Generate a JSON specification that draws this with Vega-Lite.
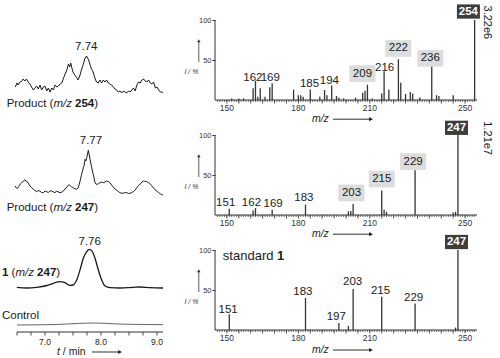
{
  "$schema": "https://vega.github.io/schema/vega-lite/v6.json",
  "padding": {"left": 2, "top": 4, "right": 0, "bottom": 0},
  "background": "white",
  "columns": 2,
  "spacing": {"row": 19, "column": 52},
  "bounds": "flush",
  "config": {"view": {"stroke": null}, "font": "Liberation Sans", "text": {"font": "Liberation Sans"}, "axis": {"labelFont": "Liberation Sans"}},
  "datasets": {
    "peaks": [
      {"panel": 1, "mz": 152, "rel": 2}, {"panel": 1, "mz": 155, "rel": 2}, {"panel": 1, "mz": 157, "rel": 2},
      {"panel": 1, "mz": 161, "rel": 14.6}, {"panel": 1, "mz": 162, "rel": 24}, {"panel": 1, "mz": 163, "rel": 4},
      {"panel": 1, "mz": 164, "rel": 14.6}, {"panel": 1, "mz": 166, "rel": 4}, {"panel": 1, "mz": 168, "rel": 16},
      {"panel": 1, "mz": 169, "rel": 21}, {"panel": 1, "mz": 178, "rel": 13}, {"panel": 1, "mz": 180, "rel": 6},
      {"panel": 1, "mz": 181, "rel": 6}, {"panel": 1, "mz": 182, "rel": 4}, {"panel": 1, "mz": 185, "rel": 13},
      {"panel": 1, "mz": 189, "rel": 4}, {"panel": 1, "mz": 191, "rel": 12.5}, {"panel": 1, "mz": 192, "rel": 6},
      {"panel": 1, "mz": 194, "rel": 18}, {"panel": 1, "mz": 196, "rel": 5}, {"panel": 1, "mz": 197, "rel": 3},
      {"panel": 1, "mz": 199, "rel": 2}, {"panel": 1, "mz": 204, "rel": 3}, {"panel": 1, "mz": 207, "rel": 9},
      {"panel": 1, "mz": 208, "rel": 11.6}, {"panel": 1, "mz": 209, "rel": 19}, {"panel": 1, "mz": 211, "rel": 2},
      {"panel": 1, "mz": 215, "rel": 8}, {"panel": 1, "mz": 216, "rel": 36}, {"panel": 1, "mz": 218, "rel": 13},
      {"panel": 1, "mz": 222, "rel": 51}, {"panel": 1, "mz": 223, "rel": 21.6}, {"panel": 1, "mz": 225, "rel": 7.5},
      {"panel": 1, "mz": 227, "rel": 10}, {"panel": 1, "mz": 228, "rel": 8}, {"panel": 1, "mz": 231, "rel": 3},
      {"panel": 1, "mz": 236, "rel": 43}, {"panel": 1, "mz": 238, "rel": 6}, {"panel": 1, "mz": 239, "rel": 5},
      {"panel": 1, "mz": 245, "rel": 6}, {"panel": 1, "mz": 254, "rel": 100},
      {"panel": 2, "mz": 151, "rel": 7.8}, {"panel": 2, "mz": 161, "rel": 5.7}, {"panel": 2, "mz": 162, "rel": 8.6},
      {"panel": 2, "mz": 169, "rel": 6.6}, {"panel": 2, "mz": 183, "rel": 13}, {"panel": 2, "mz": 201, "rel": 4.6},
      {"panel": 2, "mz": 202, "rel": 5}, {"panel": 2, "mz": 203, "rel": 13.7}, {"panel": 2, "mz": 215, "rel": 30.6},
      {"panel": 2, "mz": 216, "rel": 6.6}, {"panel": 2, "mz": 217, "rel": 4}, {"panel": 2, "mz": 229, "rel": 56},
      {"panel": 2, "mz": 245, "rel": 3}, {"panel": 2, "mz": 246, "rel": 4}, {"panel": 2, "mz": 247, "rel": 100},
      {"panel": 3, "mz": 151, "rel": 19.7}, {"panel": 3, "mz": 183, "rel": 40}, {"panel": 3, "mz": 197, "rel": 8.6},
      {"panel": 3, "mz": 201, "rel": 5}, {"panel": 3, "mz": 203, "rel": 51.4}, {"panel": 3, "mz": 215, "rel": 41.6},
      {"panel": 3, "mz": 229, "rel": 33}, {"panel": 3, "mz": 246, "rel": 3}, {"panel": 3, "mz": 247, "rel": 100}
    ],
    "labels": [
      {"panel": 1, "lx": 160.9, "ly": 28, "txt": "162", "kind": "plain"},
      {"panel": 1, "lx": 168.2, "ly": 27.5, "txt": "169", "kind": "plain"},
      {"panel": 1, "lx": 184.7, "ly": 20.4, "txt": "185", "kind": "plain"},
      {"panel": 1, "lx": 193, "ly": 23.7, "txt": "194", "kind": "plain"},
      {"panel": 1, "lx": 206.9, "ly": 33, "txt": "209", "kind": "frag"},
      {"panel": 1, "lx": 216.2, "ly": 40, "txt": "216", "kind": "plain"},
      {"panel": 1, "lx": 222, "ly": 64.4, "txt": "222", "kind": "frag"},
      {"panel": 1, "lx": 235.4, "ly": 52, "txt": "236", "kind": "frag"},
      {"panel": 1, "lx": 251.4, "ly": 110.6, "txt": "254", "kind": "base"},
      {"panel": 2, "lx": 149.5, "ly": 15, "txt": "151", "kind": "plain"},
      {"panel": 2, "lx": 160.3, "ly": 15, "txt": "162", "kind": "plain"},
      {"panel": 2, "lx": 169.4, "ly": 13.7, "txt": "169", "kind": "plain"},
      {"panel": 2, "lx": 182.3, "ly": 21, "txt": "183", "kind": "plain"},
      {"panel": 2, "lx": 202.3, "ly": 27.6, "txt": "203", "kind": "frag"},
      {"panel": 2, "lx": 215, "ly": 45, "txt": "215", "kind": "frag"},
      {"panel": 2, "lx": 228.2, "ly": 66.7, "txt": "229", "kind": "frag"},
      {"panel": 2, "lx": 246.4, "ly": 109, "txt": "247", "kind": "base"},
      {"panel": 3, "lx": 150.5, "ly": 25.5, "txt": "151", "kind": "plain"},
      {"panel": 3, "lx": 181.9, "ly": 47, "txt": "183", "kind": "plain"},
      {"panel": 3, "lx": 195.9, "ly": 16, "txt": "197", "kind": "plain"},
      {"panel": 3, "lx": 202.8, "ly": 59.5, "txt": "203", "kind": "plain"},
      {"panel": 3, "lx": 214.5, "ly": 48.5, "txt": "215", "kind": "plain"},
      {"panel": 3, "lx": 228.4, "ly": 40, "txt": "229", "kind": "plain"},
      {"panel": 3, "lx": 246.4, "ly": 110, "txt": "247", "kind": "base"}
    ],
    "mzticks": [
      {"mz": 146}, {"mz": 147}, {"mz": 148}, {"mz": 149}, {"mz": 150}, {"mz": 151}, {"mz": 152}, {"mz": 153}, {"mz": 154}, {"mz": 155},
      {"mz": 156}, {"mz": 157}, {"mz": 158}, {"mz": 159}, {"mz": 160}, {"mz": 161}, {"mz": 162}, {"mz": 163}, {"mz": 164}, {"mz": 165},
      {"mz": 166}, {"mz": 167}, {"mz": 168}, {"mz": 169}, {"mz": 170}, {"mz": 171}, {"mz": 172}, {"mz": 173}, {"mz": 174}, {"mz": 175},
      {"mz": 176}, {"mz": 177}, {"mz": 178}, {"mz": 179}, {"mz": 180}, {"mz": 181}, {"mz": 182}, {"mz": 183}, {"mz": 184}, {"mz": 185},
      {"mz": 186}, {"mz": 187}, {"mz": 188}, {"mz": 189}, {"mz": 190}, {"mz": 191}, {"mz": 192}, {"mz": 193}, {"mz": 194}, {"mz": 195},
      {"mz": 196}, {"mz": 197}, {"mz": 198}, {"mz": 199}, {"mz": 200}, {"mz": 201}, {"mz": 202}, {"mz": 203}, {"mz": 204}, {"mz": 205},
      {"mz": 206}, {"mz": 207}, {"mz": 208}, {"mz": 209}, {"mz": 210}, {"mz": 211}, {"mz": 212}, {"mz": 213}, {"mz": 214}, {"mz": 215},
      {"mz": 216}, {"mz": 217}, {"mz": 218}, {"mz": 219}, {"mz": 220}, {"mz": 221}, {"mz": 222}, {"mz": 223}, {"mz": 224}, {"mz": 225},
      {"mz": 226}, {"mz": 227}, {"mz": 228}, {"mz": 229}, {"mz": 230}, {"mz": 231}, {"mz": 232}, {"mz": 233}, {"mz": 234}, {"mz": 235},
      {"mz": 236}, {"mz": 237}, {"mz": 238}, {"mz": 239}, {"mz": 240}, {"mz": 241}, {"mz": 242}, {"mz": 243}, {"mz": 244}, {"mz": 245},
      {"mz": 246}, {"mz": 247}, {"mz": 248}, {"mz": 249}, {"mz": 250}, {"mz": 251}, {"mz": 252}, {"mz": 253}, {"mz": 254}
    ],
    "mzlabels": [{"mz": 150, "s": "150"}, {"mz": 180, "s": "180"}, {"mz": 210, "s": "210"}, {"mz": 250, "s": "250"}],
    "tticks": [{"t": 6.5}, {"t": 6.75}, {"t": 7}, {"t": 7.25}, {"t": 7.5}, {"t": 7.75}, {"t": 8}, {"t": 8.25}, {"t": 8.5}, {"t": 8.75}, {"t": 9}],
    "tlabels": [{"t": 7, "s": "7.0"}, {"t": 8, "s": "8.0"}, {"t": 9, "s": "9.0"}]
  },
  "concat": [
    {
      "width": 161, "height": 96,
      "layer": [
        {
          "data": {"values": [
            {"t": 6.47, "v": 13}, {"t": 6.5, "v": 17}, {"t": 6.52, "v": 15}, {"t": 6.55, "v": 18}, {"t": 6.58, "v": 18.5},
            {"t": 6.61, "v": 21}, {"t": 6.64, "v": 19}, {"t": 6.67, "v": 21}, {"t": 6.7, "v": 18}, {"t": 6.73, "v": 16},
            {"t": 6.76, "v": 13}, {"t": 6.79, "v": 10}, {"t": 6.82, "v": 12}, {"t": 6.85, "v": 14}, {"t": 6.88, "v": 11},
            {"t": 6.91, "v": 15}, {"t": 6.94, "v": 10}, {"t": 6.97, "v": 13}, {"t": 7.0, "v": 14}, {"t": 7.03, "v": 9},
            {"t": 7.06, "v": 12}, {"t": 7.09, "v": 8}, {"t": 7.12, "v": 12}, {"t": 7.15, "v": 10}, {"t": 7.18, "v": 15},
            {"t": 7.21, "v": 13}, {"t": 7.24, "v": 14}, {"t": 7.27, "v": 16}, {"t": 7.3, "v": 17}, {"t": 7.33, "v": 22},
            {"t": 7.36, "v": 26}, {"t": 7.39, "v": 30}, {"t": 7.42, "v": 36}, {"t": 7.44, "v": 33}, {"t": 7.46, "v": 37},
            {"t": 7.48, "v": 32}, {"t": 7.5, "v": 28}, {"t": 7.53, "v": 25}, {"t": 7.56, "v": 23}, {"t": 7.59, "v": 20},
            {"t": 7.62, "v": 24}, {"t": 7.65, "v": 30}, {"t": 7.68, "v": 35}, {"t": 7.71, "v": 41}, {"t": 7.74, "v": 44},
            {"t": 7.76, "v": 42}, {"t": 7.78, "v": 40}, {"t": 7.8, "v": 36}, {"t": 7.83, "v": 31}, {"t": 7.86, "v": 28},
            {"t": 7.89, "v": 22}, {"t": 7.92, "v": 18}, {"t": 7.95, "v": 17}, {"t": 7.98, "v": 20}, {"t": 8.01, "v": 17},
            {"t": 8.04, "v": 20}, {"t": 8.07, "v": 18}, {"t": 8.1, "v": 20}, {"t": 8.13, "v": 17}, {"t": 8.16, "v": 16},
            {"t": 8.19, "v": 15}, {"t": 8.22, "v": 13}, {"t": 8.25, "v": 11}, {"t": 8.28, "v": 10}, {"t": 8.31, "v": 8},
            {"t": 8.34, "v": 9}, {"t": 8.37, "v": 7}, {"t": 8.4, "v": 9}, {"t": 8.43, "v": 8}, {"t": 8.46, "v": 7},
            {"t": 8.49, "v": 9}, {"t": 8.52, "v": 8}, {"t": 8.55, "v": 10}, {"t": 8.58, "v": 12}, {"t": 8.61, "v": 9},
            {"t": 8.64, "v": 15}, {"t": 8.67, "v": 18}, {"t": 8.7, "v": 17}, {"t": 8.73, "v": 20}, {"t": 8.76, "v": 21},
            {"t": 8.79, "v": 19}, {"t": 8.82, "v": 18}, {"t": 8.85, "v": 20}, {"t": 8.88, "v": 17}, {"t": 8.91, "v": 16},
            {"t": 8.94, "v": 18}, {"t": 8.97, "v": 12}, {"t": 9.0, "v": 13}, {"t": 9.03, "v": 10}, {"t": 9.06, "v": 8},
            {"t": 9.09, "v": 8}, {"t": 9.11, "v": 7}
          ]},
          "mark": {"type": "line", "color": "#1a1a1a", "strokeWidth": 1},
          "encoding": {
            "x": {"field": "t", "type": "quantitative", "scale": {"domain": [6.232, 9.107], "nice": false, "zero": false}, "axis": null},
            "y": {"field": "v", "type": "quantitative", "scale": {"domain": [0, 96], "nice": false, "zero": false}, "axis": null}
          }
        },
        {
          "data": {"values": [{"t": 7.737, "v": 52.7, "s": "7.74"}]},
          "mark": {"type": "text", "fontSize": 11.5, "color": "#1a1a1a", "baseline": "middle"},
          "encoding": {"x": {"field": "t", "type": "quantitative"}, "y": {"field": "v", "type": "quantitative"}, "text": {"field": "s"}}
        },
        {
          "data": {"values": [{"t": 6.316, "v": -4, "s": "Product ("}, {"t": 7.88, "v": -4, "s": ")"}]},
          "mark": {"type": "text", "fontSize": 11.5, "color": "#1a1a1a", "baseline": "middle", "align": "left"},
          "encoding": {"x": {"field": "t", "type": "quantitative"}, "y": {"field": "v", "type": "quantitative"}, "text": {"field": "s"}}
        },
        {
          "data": {"values": [{"t": 7.15, "v": -4, "s": "m/z"}]},
          "mark": {"type": "text", "fontSize": 11.5, "color": "#1a1a1a", "baseline": "middle", "align": "left", "fontStyle": "italic"},
          "encoding": {"x": {"field": "t", "type": "quantitative"}, "y": {"field": "v", "type": "quantitative"}, "text": {"field": "s"}}
        },
        {
          "data": {"values": [{"t": 7.537, "v": -4, "s": "254"}]},
          "mark": {"type": "text", "fontSize": 11.5, "color": "#1a1a1a", "baseline": "middle", "align": "left", "fontWeight": "bold"},
          "encoding": {"x": {"field": "t", "type": "quantitative"}, "y": {"field": "v", "type": "quantitative"}, "text": {"field": "s"}}
        }
      ]
    },
    {
      "width": 262, "height": 96,
      "layer": [
        {
          "data": {"name": "peaks"}, "transform": [{"filter": "datum.panel == 1"}],
          "mark": {"type": "rule", "color": "#333", "strokeWidth": 1.3},
          "encoding": {
            "x": {"field": "mz", "type": "quantitative", "scale": {"domain": [145, 255], "nice": false, "zero": false}, "axis": null},
            "y": {"field": "rel", "type": "quantitative", "scale": {"domain": [0, 120], "nice": false},
              "axis": {"values": [50, 100], "tickSize": 3, "labelFontSize": 7.5, "labelPadding": 1, "domain": false, "title": null, "grid": false, "tickColor": "#333", "labelColor": "#333"}},
            "y2": {"datum": 0}
          }
        },
        {"data": {"values": [{}]}, "mark": {"type": "rule", "color": "#333", "strokeWidth": 1}, "encoding": {"x": {"datum": 145}, "y": {"datum": 0}, "y2": {"datum": 100}}},
        {"data": {"values": [{}]}, "mark": {"type": "rule", "color": "#333", "strokeWidth": 1}, "encoding": {"x": {"datum": 145}, "x2": {"datum": 255}, "y": {"datum": 0}}},
        {"data": {"name": "mzticks"}, "mark": {"type": "rule", "color": "#333", "strokeWidth": 0.7}, "encoding": {"x": {"field": "mz", "type": "quantitative"}, "y": {"datum": 0}, "y2": {"datum": -2.5}}},
        {"data": {"name": "mzticks"}, "transform": [{"filter": "datum.mz % 5 == 0"}], "mark": {"type": "rule", "color": "#333", "strokeWidth": 0.8}, "encoding": {"x": {"field": "mz", "type": "quantitative"}, "y": {"datum": 0}, "y2": {"datum": -4.5}}},
        {"data": {"name": "mzlabels"}, "mark": {"type": "text", "fontSize": 8.5, "color": "#333", "baseline": "middle"}, "encoding": {"x": {"field": "mz", "type": "quantitative"}, "y": {"datum": -9.5}, "text": {"field": "s"}}},
        {
          "data": {"name": "labels"}, "transform": [{"filter": "datum.panel == 1 && datum.kind == 'frag'"}],
          "mark": {"type": "point", "shape": "M-1,-0.64H1V0.64H-1Z", "size": 676, "filled": true, "color": "#dcdcdc", "opacity": 1, "strokeWidth": 0},
          "encoding": {"x": {"field": "lx", "type": "quantitative"}, "y": {"field": "ly", "type": "quantitative"}}
        },
        {
          "data": {"name": "labels"}, "transform": [{"filter": "datum.panel == 1 && datum.kind == 'base'"}],
          "mark": {"type": "point", "shape": "M-1,-0.62H1V0.62H-1Z", "size": 529, "filled": true, "color": "#3d3d3d", "opacity": 1, "strokeWidth": 0},
          "encoding": {"x": {"field": "lx", "type": "quantitative"}, "y": {"field": "ly", "type": "quantitative"}}
        },
        {
          "data": {"name": "labels"}, "transform": [{"filter": "datum.panel == 1 && datum.kind != 'base'"}],
          "mark": {"type": "text", "fontSize": 11.5, "color": "#1a1a1a", "baseline": "middle"},
          "encoding": {"x": {"field": "lx", "type": "quantitative"}, "y": {"field": "ly", "type": "quantitative"}, "text": {"field": "txt"}}
        },
        {
          "data": {"name": "labels"}, "transform": [{"filter": "datum.panel == 1 && datum.kind == 'base'"}],
          "mark": {"type": "text", "fontSize": 11.5, "color": "white", "baseline": "middle", "fontWeight": "bold"},
          "encoding": {"x": {"field": "lx", "type": "quantitative"}, "y": {"field": "ly", "type": "quantitative"}, "text": {"field": "txt"}}
        },
        {"data": {"values": [{}]}, "mark": {"type": "text", "fontSize": 7, "fontStyle": "italic", "color": "#333"}, "encoding": {"x": {"datum": 135.1}, "y": {"datum": 35}, "text": {"value": "I / %"}}},
        {"data": {"values": [{}]}, "mark": {"type": "rule", "color": "#333", "strokeWidth": 0.8}, "encoding": {"x": {"datum": 138.2}, "y": {"datum": 47.5}, "y2": {"datum": 73}}},
        {"data": {"values": [{}]}, "mark": {"type": "point", "shape": "triangle-up", "size": 12, "filled": true, "color": "#333", "opacity": 1}, "encoding": {"x": {"datum": 138.2}, "y": {"datum": 74}}},
        {"data": {"values": [{}]}, "mark": {"type": "text", "fontSize": 10.5, "fontStyle": "italic", "align": "left", "baseline": "middle", "color": "#1a1a1a"}, "encoding": {"x": {"datum": 185.7}, "y": {"datum": -24}, "text": {"value": "m/z"}}},
        {"data": {"values": [{}]}, "mark": {"type": "rule", "color": "#1a1a1a", "strokeWidth": 0.9}, "encoding": {"x": {"datum": 194.5}, "x2": {"datum": 210}, "y": {"datum": -24}}},
        {"data": {"values": [{}]}, "mark": {"type": "point", "shape": "triangle-right", "size": 18, "filled": true, "color": "#1a1a1a", "opacity": 1}, "encoding": {"x": {"datum": 210.5}, "y": {"datum": -24}}},
        {"data": {"values": [{}]}, "mark": {"type": "text", "fontSize": 11, "angle": 90, "baseline": "middle", "color": "#1a1a1a"}, "encoding": {"x": {"datum": 259.4}, "y": {"datum": 97}, "text": {"value": "3.22e6"}}}
      ]
    },
    {
      "width": 161, "height": 96,
      "layer": [
        {
          "data": {"values": [
            {"t": 6.465, "v": 29}, {"t": 6.49, "v": 27}, {"t": 6.506, "v": 26.5}, {"t": 6.53, "v": 28.5}, {"t": 6.554, "v": 30.7},
            {"t": 6.58, "v": 32}, {"t": 6.613, "v": 34}, {"t": 6.643, "v": 35.2}, {"t": 6.66, "v": 34}, {"t": 6.684, "v": 33.3},
            {"t": 6.71, "v": 31}, {"t": 6.732, "v": 29}, {"t": 6.76, "v": 27.5}, {"t": 6.791, "v": 25.7}, {"t": 6.82, "v": 24.5},
            {"t": 6.852, "v": 23.3}, {"t": 6.88, "v": 24.5}, {"t": 6.911, "v": 23.8}, {"t": 6.94, "v": 22.5}, {"t": 6.97, "v": 22.3},
            {"t": 7.0, "v": 24}, {"t": 7.03, "v": 23.3}, {"t": 7.06, "v": 22.5}, {"t": 7.09, "v": 24.2}, {"t": 7.12, "v": 24},
            {"t": 7.148, "v": 23}, {"t": 7.18, "v": 22.5}, {"t": 7.209, "v": 23.8}, {"t": 7.24, "v": 23}, {"t": 7.268, "v": 22.3},
            {"t": 7.3, "v": 22.8}, {"t": 7.327, "v": 24}, {"t": 7.36, "v": 26}, {"t": 7.388, "v": 28}, {"t": 7.41, "v": 29.5},
            {"t": 7.434, "v": 30.2}, {"t": 7.455, "v": 29}, {"t": 7.477, "v": 28}, {"t": 7.5, "v": 27.5}, {"t": 7.518, "v": 26.5},
            {"t": 7.54, "v": 26.2}, {"t": 7.566, "v": 25.7}, {"t": 7.59, "v": 27}, {"t": 7.613, "v": 30.7}, {"t": 7.63, "v": 35},
            {"t": 7.654, "v": 40.7}, {"t": 7.67, "v": 44}, {"t": 7.684, "v": 47.3}, {"t": 7.7, "v": 50}, {"t": 7.714, "v": 55.7},
            {"t": 7.73, "v": 54}, {"t": 7.745, "v": 57.3}, {"t": 7.76, "v": 61}, {"t": 7.773, "v": 64.7}, {"t": 7.79, "v": 60},
            {"t": 7.804, "v": 55.7}, {"t": 7.82, "v": 51}, {"t": 7.834, "v": 47.3}, {"t": 7.85, "v": 43}, {"t": 7.863, "v": 40.7},
            {"t": 7.88, "v": 36}, {"t": 7.893, "v": 32.3}, {"t": 7.91, "v": 31}, {"t": 7.934, "v": 30.7}, {"t": 7.96, "v": 31.5},
            {"t": 7.982, "v": 32.3}, {"t": 8.01, "v": 33}, {"t": 8.041, "v": 32.3}, {"t": 8.07, "v": 33}, {"t": 8.102, "v": 34},
            {"t": 8.13, "v": 33.5}, {"t": 8.161, "v": 32.3}, {"t": 8.19, "v": 30}, {"t": 8.22, "v": 28}, {"t": 8.25, "v": 26},
            {"t": 8.28, "v": 24.7}, {"t": 8.31, "v": 23.5}, {"t": 8.339, "v": 22.3}, {"t": 8.37, "v": 21.8}, {"t": 8.398, "v": 21.7},
            {"t": 8.43, "v": 22.5}, {"t": 8.459, "v": 22.3}, {"t": 8.49, "v": 21.5}, {"t": 8.518, "v": 21.7}, {"t": 8.55, "v": 22.5},
            {"t": 8.577, "v": 23.3}, {"t": 8.61, "v": 25}, {"t": 8.638, "v": 27.3}, {"t": 8.67, "v": 29.5}, {"t": 8.709, "v": 31.3},
            {"t": 8.73, "v": 33}, {"t": 8.756, "v": 34}, {"t": 8.78, "v": 33.8}, {"t": 8.816, "v": 33.3}, {"t": 8.845, "v": 32.5},
            {"t": 8.875, "v": 31.3}, {"t": 8.9, "v": 29.5}, {"t": 8.934, "v": 27.3}, {"t": 8.96, "v": 25.5}, {"t": 8.995, "v": 24},
            {"t": 9.025, "v": 22.5}, {"t": 9.054, "v": 21.3}, {"t": 9.08, "v": 20.5}, {"t": 9.107, "v": 20}
          ]},
          "mark": {"type": "line", "color": "#1a1a1a", "strokeWidth": 1},
          "encoding": {
            "x": {"field": "t", "type": "quantitative", "scale": {"domain": [6.232, 9.107], "nice": false, "zero": false}, "axis": null},
            "y": {"field": "v", "type": "quantitative", "scale": {"domain": [0, 96], "nice": false, "zero": false}, "axis": null}
          }
        },
        {
          "data": {"values": [{"t": 7.82, "v": 73.7, "s": "7.77"}]},
          "mark": {"type": "text", "fontSize": 11.5, "color": "#1a1a1a", "baseline": "middle"},
          "encoding": {"x": {"field": "t", "type": "quantitative"}, "y": {"field": "v", "type": "quantitative"}, "text": {"field": "s"}}
        },
        {
          "data": {"values": [{"t": 6.316, "v": 7, "s": "Product ("}, {"t": 7.88, "v": 7, "s": ")"}]},
          "mark": {"type": "text", "fontSize": 11.5, "color": "#1a1a1a", "baseline": "middle", "align": "left"},
          "encoding": {"x": {"field": "t", "type": "quantitative"}, "y": {"field": "v", "type": "quantitative"}, "text": {"field": "s"}}
        },
        {
          "data": {"values": [{"t": 7.15, "v": 7, "s": "m/z"}]},
          "mark": {"type": "text", "fontSize": 11.5, "color": "#1a1a1a", "baseline": "middle", "align": "left", "fontStyle": "italic"},
          "encoding": {"x": {"field": "t", "type": "quantitative"}, "y": {"field": "v", "type": "quantitative"}, "text": {"field": "s"}}
        },
        {
          "data": {"values": [{"t": 7.537, "v": 7, "s": "247"}]},
          "mark": {"type": "text", "fontSize": 11.5, "color": "#1a1a1a", "baseline": "middle", "align": "left", "fontWeight": "bold"},
          "encoding": {"x": {"field": "t", "type": "quantitative"}, "y": {"field": "v", "type": "quantitative"}, "text": {"field": "s"}}
        }
      ]
    },
    {
      "width": 262, "height": 96,
      "layer": [
        {
          "data": {"name": "peaks"}, "transform": [{"filter": "datum.panel == 2"}],
          "mark": {"type": "rule", "color": "#333", "strokeWidth": 1.3},
          "encoding": {
            "x": {"field": "mz", "type": "quantitative", "scale": {"domain": [145, 255], "nice": false, "zero": false}, "axis": null},
            "y": {"field": "rel", "type": "quantitative", "scale": {"domain": [0, 120], "nice": false},
              "axis": {"values": [50, 100], "tickSize": 3, "labelFontSize": 7.5, "labelPadding": 1, "domain": false, "title": null, "grid": false, "tickColor": "#333", "labelColor": "#333"}},
            "y2": {"datum": 0}
          }
        },
        {"data": {"values": [{}]}, "mark": {"type": "rule", "color": "#333", "strokeWidth": 1}, "encoding": {"x": {"datum": 145}, "y": {"datum": 0}, "y2": {"datum": 100}}},
        {"data": {"values": [{}]}, "mark": {"type": "rule", "color": "#333", "strokeWidth": 1}, "encoding": {"x": {"datum": 145}, "x2": {"datum": 255}, "y": {"datum": 0}}},
        {"data": {"name": "mzticks"}, "mark": {"type": "rule", "color": "#333", "strokeWidth": 0.7}, "encoding": {"x": {"field": "mz", "type": "quantitative"}, "y": {"datum": 0}, "y2": {"datum": -2.5}}},
        {"data": {"name": "mzticks"}, "transform": [{"filter": "datum.mz % 5 == 0"}], "mark": {"type": "rule", "color": "#333", "strokeWidth": 0.8}, "encoding": {"x": {"field": "mz", "type": "quantitative"}, "y": {"datum": 0}, "y2": {"datum": -4.5}}},
        {"data": {"name": "mzlabels"}, "mark": {"type": "text", "fontSize": 8.5, "color": "#333", "baseline": "middle"}, "encoding": {"x": {"field": "mz", "type": "quantitative"}, "y": {"datum": -9.5}, "text": {"field": "s"}}},
        {
          "data": {"name": "labels"}, "transform": [{"filter": "datum.panel == 2 && datum.kind == 'frag'"}],
          "mark": {"type": "point", "shape": "M-1,-0.64H1V0.64H-1Z", "size": 676, "filled": true, "color": "#dcdcdc", "opacity": 1, "strokeWidth": 0},
          "encoding": {"x": {"field": "lx", "type": "quantitative"}, "y": {"field": "ly", "type": "quantitative"}}
        },
        {
          "data": {"name": "labels"}, "transform": [{"filter": "datum.panel == 2 && datum.kind == 'base'"}],
          "mark": {"type": "point", "shape": "M-1,-0.62H1V0.62H-1Z", "size": 529, "filled": true, "color": "#3d3d3d", "opacity": 1, "strokeWidth": 0},
          "encoding": {"x": {"field": "lx", "type": "quantitative"}, "y": {"field": "ly", "type": "quantitative"}}
        },
        {
          "data": {"name": "labels"}, "transform": [{"filter": "datum.panel == 2 && datum.kind != 'base'"}],
          "mark": {"type": "text", "fontSize": 11.5, "color": "#1a1a1a", "baseline": "middle"},
          "encoding": {"x": {"field": "lx", "type": "quantitative"}, "y": {"field": "ly", "type": "quantitative"}, "text": {"field": "txt"}}
        },
        {
          "data": {"name": "labels"}, "transform": [{"filter": "datum.panel == 2 && datum.kind == 'base'"}],
          "mark": {"type": "text", "fontSize": 11.5, "color": "white", "baseline": "middle", "fontWeight": "bold"},
          "encoding": {"x": {"field": "lx", "type": "quantitative"}, "y": {"field": "ly", "type": "quantitative"}, "text": {"field": "txt"}}
        },
        {"data": {"values": [{}]}, "mark": {"type": "text", "fontSize": 7, "fontStyle": "italic", "color": "#333"}, "encoding": {"x": {"datum": 135.1}, "y": {"datum": 35}, "text": {"value": "I / %"}}},
        {"data": {"values": [{}]}, "mark": {"type": "rule", "color": "#333", "strokeWidth": 0.8}, "encoding": {"x": {"datum": 138.2}, "y": {"datum": 47.5}, "y2": {"datum": 73}}},
        {"data": {"values": [{}]}, "mark": {"type": "point", "shape": "triangle-up", "size": 12, "filled": true, "color": "#333", "opacity": 1}, "encoding": {"x": {"datum": 138.2}, "y": {"datum": 74}}},
        {"data": {"values": [{}]}, "mark": {"type": "text", "fontSize": 10.5, "fontStyle": "italic", "align": "left", "baseline": "middle", "color": "#1a1a1a"}, "encoding": {"x": {"datum": 185.7}, "y": {"datum": -24}, "text": {"value": "m/z"}}},
        {"data": {"values": [{}]}, "mark": {"type": "rule", "color": "#1a1a1a", "strokeWidth": 0.9}, "encoding": {"x": {"datum": 194.5}, "x2": {"datum": 210}, "y": {"datum": -24}}},
        {"data": {"values": [{}]}, "mark": {"type": "point", "shape": "triangle-right", "size": 18, "filled": true, "color": "#1a1a1a", "opacity": 1}, "encoding": {"x": {"datum": 210.5}, "y": {"datum": -24}}},
        {"data": {"values": [{}]}, "mark": {"type": "text", "fontSize": 11, "angle": 90, "baseline": "middle", "color": "#1a1a1a"}, "encoding": {"x": {"datum": 259.4}, "y": {"datum": 96}, "text": {"value": "1.21e7"}}}
      ]
    },
    {
      "width": 161, "height": 96,
      "layer": [
        {
          "data": {"values": [
            {"t": 6.495, "v": 42.7}, {"t": 6.674, "v": 42}, {"t": 6.852, "v": 42.7}, {"t": 7.031, "v": 44.5}, {"t": 7.148, "v": 46.7},
            {"t": 7.256, "v": 48.3}, {"t": 7.357, "v": 47.3}, {"t": 7.447, "v": 44.7}, {"t": 7.5, "v": 45}, {"t": 7.566, "v": 50},
            {"t": 7.625, "v": 60}, {"t": 7.684, "v": 71.7}, {"t": 7.745, "v": 78.3}, {"t": 7.791, "v": 80.7}, {"t": 7.834, "v": 79.3},
            {"t": 7.893, "v": 71.7}, {"t": 7.952, "v": 60}, {"t": 8.013, "v": 50}, {"t": 8.072, "v": 44}, {"t": 8.161, "v": 42.3},
            {"t": 8.34, "v": 42}, {"t": 8.577, "v": 42.7}, {"t": 8.697, "v": 43}, {"t": 8.875, "v": 42.3}, {"t": 9.107, "v": 42}
          ]},
          "mark": {"type": "line", "color": "#1a1a1a", "strokeWidth": 1.3, "interpolate": "monotone"},
          "encoding": {
            "x": {"field": "t", "type": "quantitative", "scale": {"domain": [6.232, 9.107], "nice": false, "zero": false}, "axis": null},
            "y": {"field": "v", "type": "quantitative", "scale": {"domain": [0, 96], "nice": false, "zero": false}, "axis": null}
          }
        },
        {
          "data": {"values": [
            {"t": 6.5, "v": 5}, {"t": 7.2, "v": 5.5}, {"t": 7.6, "v": 6.6}, {"t": 7.9, "v": 7}, {"t": 8.3, "v": 6}, {"t": 8.8, "v": 5.5}, {"t": 9.107, "v": 5.3}
          ]},
          "mark": {"type": "line", "color": "#666", "strokeWidth": 1, "interpolate": "monotone"},
          "encoding": {"x": {"field": "t", "type": "quantitative"}, "y": {"field": "v", "type": "quantitative"}}
        },
        {"data": {"values": [{}]}, "mark": {"type": "rule", "color": "#333", "strokeWidth": 1}, "encoding": {"x": {"datum": 6.5}, "x2": {"datum": 9.107}, "y": {"datum": -2}}},
        {"data": {"name": "tticks"}, "mark": {"type": "rule", "color": "#333", "strokeWidth": 0.9}, "encoding": {"x": {"field": "t", "type": "quantitative"}, "y": {"datum": -2}, "y2": {"datum": -5.5}}},
        {"data": {"name": "tlabels"}, "mark": {"type": "text", "fontSize": 8.5, "color": "#1a1a1a", "baseline": "middle"}, "encoding": {"x": {"field": "t", "type": "quantitative"}, "y": {"datum": -11.5}, "text": {"field": "s"}}},
        {
          "data": {"values": [{"t": 7.798, "v": 88.3, "s": "7.76"}]},
          "mark": {"type": "text", "fontSize": 11.5, "color": "#1a1a1a", "baseline": "middle"},
          "encoding": {"x": {"field": "t", "type": "quantitative"}, "y": {"field": "v", "type": "quantitative"}, "text": {"field": "s"}}
        },
        {
          "data": {"values": [{"t": 6.403, "v": 57, "s": "("}, {"t": 7.202, "v": 57, "s": ")"}, {"t": 6.232, "v": 14, "s": "Control"}]},
          "mark": {"type": "text", "fontSize": 11.5, "color": "#1a1a1a", "baseline": "middle", "align": "left"},
          "encoding": {"x": {"field": "t", "type": "quantitative"}, "y": {"field": "v", "type": "quantitative"}, "text": {"field": "s"}}
        },
        {
          "data": {"values": [{"t": 6.471, "v": 57, "s": "m/z"}]},
          "mark": {"type": "text", "fontSize": 11.5, "color": "#1a1a1a", "baseline": "middle", "align": "left", "fontStyle": "italic"},
          "encoding": {"x": {"field": "t", "type": "quantitative"}, "y": {"field": "v", "type": "quantitative"}, "text": {"field": "s"}}
        },
        {
          "data": {"values": [{"t": 6.232, "v": 57, "s": "1"}, {"t": 6.859, "v": 57, "s": "247"}]},
          "mark": {"type": "text", "fontSize": 11.5, "color": "#1a1a1a", "baseline": "middle", "align": "left", "fontWeight": "bold"},
          "encoding": {"x": {"field": "t", "type": "quantitative"}, "y": {"field": "v", "type": "quantitative"}, "text": {"field": "s"}}
        },
        {"data": {"values": [{}]}, "mark": {"type": "text", "fontSize": 10.5, "fontStyle": "italic", "align": "left", "baseline": "middle", "color": "#1a1a1a"}, "encoding": {"x": {"datum": 7.214}, "y": {"datum": -22}, "text": {"value": "t"}}},
        {"data": {"values": [{}]}, "mark": {"type": "text", "fontSize": 10.5, "align": "left", "baseline": "middle", "color": "#1a1a1a"}, "encoding": {"x": {"datum": 7.318}, "y": {"datum": -22}, "text": {"value": "/ min"}}},
        {"data": {"values": [{}]}, "mark": {"type": "rule", "color": "#1a1a1a", "strokeWidth": 0.9}, "encoding": {"x": {"datum": 7.84}, "x2": {"datum": 8.33}, "y": {"datum": -22}}},
        {"data": {"values": [{}]}, "mark": {"type": "point", "shape": "triangle-right", "size": 18, "filled": true, "color": "#1a1a1a", "opacity": 1}, "encoding": {"x": {"datum": 8.34}, "y": {"datum": -22}}}
      ]
    },
    {
      "width": 262, "height": 96,
      "layer": [
        {
          "data": {"name": "peaks"}, "transform": [{"filter": "datum.panel == 3"}],
          "mark": {"type": "rule", "color": "#333", "strokeWidth": 1.3},
          "encoding": {
            "x": {"field": "mz", "type": "quantitative", "scale": {"domain": [145, 255], "nice": false, "zero": false}, "axis": null},
            "y": {"field": "rel", "type": "quantitative", "scale": {"domain": [0, 120], "nice": false},
              "axis": {"values": [50, 100], "tickSize": 3, "labelFontSize": 7.5, "labelPadding": 1, "domain": false, "title": null, "grid": false, "tickColor": "#333", "labelColor": "#333"}},
            "y2": {"datum": 0}
          }
        },
        {"data": {"values": [{}]}, "mark": {"type": "rule", "color": "#333", "strokeWidth": 1}, "encoding": {"x": {"datum": 145}, "y": {"datum": 0}, "y2": {"datum": 100}}},
        {"data": {"values": [{}]}, "mark": {"type": "rule", "color": "#333", "strokeWidth": 1}, "encoding": {"x": {"datum": 145}, "x2": {"datum": 255}, "y": {"datum": 0}}},
        {"data": {"name": "mzticks"}, "mark": {"type": "rule", "color": "#333", "strokeWidth": 0.7}, "encoding": {"x": {"field": "mz", "type": "quantitative"}, "y": {"datum": 0}, "y2": {"datum": -2.5}}},
        {"data": {"name": "mzticks"}, "transform": [{"filter": "datum.mz % 5 == 0"}], "mark": {"type": "rule", "color": "#333", "strokeWidth": 0.8}, "encoding": {"x": {"field": "mz", "type": "quantitative"}, "y": {"datum": 0}, "y2": {"datum": -4.5}}},
        {"data": {"name": "mzlabels"}, "mark": {"type": "text", "fontSize": 8.5, "color": "#333", "baseline": "middle"}, "encoding": {"x": {"field": "mz", "type": "quantitative"}, "y": {"datum": -9.5}, "text": {"field": "s"}}},
        {
          "data": {"name": "labels"}, "transform": [{"filter": "datum.panel == 3 && datum.kind == 'base'"}],
          "mark": {"type": "point", "shape": "M-1,-0.62H1V0.62H-1Z", "size": 529, "filled": true, "color": "#3d3d3d", "opacity": 1, "strokeWidth": 0},
          "encoding": {"x": {"field": "lx", "type": "quantitative"}, "y": {"field": "ly", "type": "quantitative"}}
        },
        {
          "data": {"name": "labels"}, "transform": [{"filter": "datum.panel == 3 && datum.kind != 'base'"}],
          "mark": {"type": "text", "fontSize": 11.5, "color": "#1a1a1a", "baseline": "middle"},
          "encoding": {"x": {"field": "lx", "type": "quantitative"}, "y": {"field": "ly", "type": "quantitative"}, "text": {"field": "txt"}}
        },
        {
          "data": {"name": "labels"}, "transform": [{"filter": "datum.panel == 3 && datum.kind == 'base'"}],
          "mark": {"type": "text", "fontSize": 11.5, "color": "white", "baseline": "middle", "fontWeight": "bold"},
          "encoding": {"x": {"field": "lx", "type": "quantitative"}, "y": {"field": "ly", "type": "quantitative"}, "text": {"field": "txt"}}
        },
        {"data": {"values": [{}]}, "mark": {"type": "text", "fontSize": 13, "align": "left", "baseline": "middle", "color": "#1a1a1a"}, "encoding": {"x": {"datum": 148.3}, "y": {"datum": 93}, "text": {"value": "standard"}}},
        {"data": {"values": [{}]}, "mark": {"type": "text", "fontSize": 13, "align": "left", "baseline": "middle", "fontWeight": "bold", "color": "#1a1a1a"}, "encoding": {"x": {"datum": 171}, "y": {"datum": 93}, "text": {"value": "1"}}},
        {"data": {"values": [{}]}, "mark": {"type": "text", "fontSize": 7, "fontStyle": "italic", "color": "#333"}, "encoding": {"x": {"datum": 135.1}, "y": {"datum": 35}, "text": {"value": "I / %"}}},
        {"data": {"values": [{}]}, "mark": {"type": "rule", "color": "#333", "strokeWidth": 0.8}, "encoding": {"x": {"datum": 138.2}, "y": {"datum": 47.5}, "y2": {"datum": 73}}},
        {"data": {"values": [{}]}, "mark": {"type": "point", "shape": "triangle-up", "size": 12, "filled": true, "color": "#333", "opacity": 1}, "encoding": {"x": {"datum": 138.2}, "y": {"datum": 74}}},
        {"data": {"values": [{}]}, "mark": {"type": "text", "fontSize": 10.5, "fontStyle": "italic", "align": "left", "baseline": "middle", "color": "#1a1a1a"}, "encoding": {"x": {"datum": 185.7}, "y": {"datum": -25}, "text": {"value": "m/z"}}},
        {"data": {"values": [{}]}, "mark": {"type": "rule", "color": "#1a1a1a", "strokeWidth": 0.9}, "encoding": {"x": {"datum": 194.5}, "x2": {"datum": 210}, "y": {"datum": -25}}},
        {"data": {"values": [{}]}, "mark": {"type": "point", "shape": "triangle-right", "size": 18, "filled": true, "color": "#1a1a1a", "opacity": 1}, "encoding": {"x": {"datum": 210.5}, "y": {"datum": -25}}}
      ]
    }
  ]
}
